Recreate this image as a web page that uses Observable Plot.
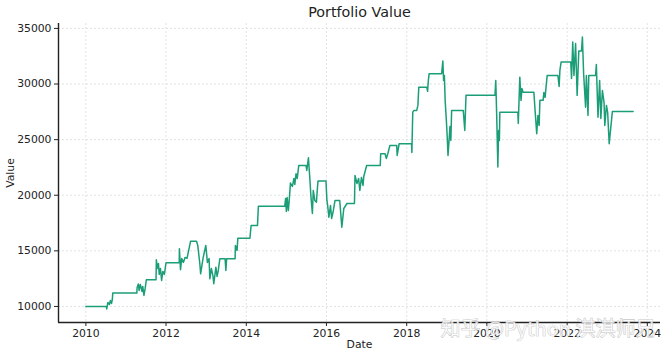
<!DOCTYPE html>
<html><head><meta charset="utf-8">
<script src="https://cdn.jsdelivr.net/npm/d3@7"></script>
<script src="https://cdn.jsdelivr.net/npm/@observablehq/plot@0.6"></script>
<style>
html,body{margin:0;padding:0;background:#fff;}
#chart svg{display:block;}
</style>
</head><body><div id="chart"></div>
<script>
const dates = [
"2010-01-01","2010-07-06","2010-07-10","2010-07-21","2010-08-04","2010-08-12","2010-08-23","2010-08-30","2010-09-03",
"2011-04-10","2011-04-13","2011-04-24","2011-05-01","2011-05-12","2011-05-27","2011-06-03","2011-06-14","2011-06-25","2011-07-06",
"2011-10-02","2011-10-05","2011-10-13","2011-10-24","2011-10-31","2011-11-11","2011-11-22","2011-12-03","2011-12-17",
"2012-01-01","2012-04-30","2012-05-02","2012-05-12","2012-05-23","2012-06-07","2012-06-22","2012-07-10","2012-08-12",
"2012-10-05","2012-10-16","2012-11-04","2012-11-11","2012-12-03","2012-12-28",
"2013-01-12","2013-01-27","2013-02-03","2013-02-17","2013-03-04","2013-03-11","2013-03-30","2013-04-10","2013-04-21","2013-05-05",
"2013-06-22","2013-06-29","2013-07-06","2013-09-21","2013-09-24","2013-10-09","2013-10-16",
"2014-02-03","2014-02-14","2014-04-13","2014-04-21","2014-12-17","2014-12-25",
"2015-01-01","2015-01-08","2015-01-19","2015-01-27","2015-02-07","2015-02-25","2015-03-11","2015-03-19","2015-03-30","2015-04-10","2015-04-24",
"2015-06-29","2015-07-06","2015-07-21","2015-08-04","2015-08-12","2015-08-26","2015-09-03","2015-09-17","2015-10-02","2015-10-09","2015-10-16","2015-12-28",
"2016-01-05","2016-01-12","2016-01-23","2016-02-07","2016-02-17","2016-03-04","2016-03-19","2016-05-01","2016-05-20","2016-06-07","2016-07-06",
"2016-09-12","2016-09-17","2016-10-05","2016-10-20","2016-10-31","2016-11-15","2016-11-29","2016-12-06",
"2017-01-01","2017-05-05","2017-05-09","2017-06-18","2017-06-29","2017-07-13","2017-08-01","2017-10-02","2017-10-06","2017-10-24",
"2018-02-14","2018-02-17","2018-02-25","2018-03-08","2018-04-02","2018-04-13","2018-04-21","2018-07-03","2018-07-10","2018-07-17","2018-07-24",
"2018-11-15","2018-11-26","2018-12-03","2018-12-10","2018-12-17","2018-12-28",
"2019-01-05","2019-01-12","2019-01-23","2019-01-30","2019-02-07","2019-02-14","2019-05-31","2019-06-14","2019-06-25",
"2020-03-15","2020-03-22","2020-03-30","2020-04-10","2020-04-17","2020-04-24","2020-04-28",
"2020-10-09","2020-10-13","2020-10-20","2020-10-27","2020-11-07","2020-11-15","2020-11-26",
"2021-03-04","2021-03-15","2021-03-30","2021-04-10","2021-04-21","2021-04-28","2021-05-27","2021-06-03","2021-06-14","2021-07-03",
"2021-10-09","2021-10-20","2021-10-27","2021-11-07",
"2022-02-03","2022-02-10","2022-02-21","2022-03-04","2022-03-19","2022-04-02","2022-04-17","2022-05-12","2022-05-20","2022-05-31",
"2022-06-18","2022-06-25","2022-07-10","2022-07-17","2022-09-17","2022-09-24","2022-10-09","2022-10-24","2022-11-04","2022-11-18",
"2022-12-03","2022-12-10","2022-12-25",
"2023-01-05","2023-01-12","2023-01-19","2023-02-17","2023-08-25"
];
const values = [
10000,10000,9780,10360,10180,10540,10270,10630,11200,
11200,11710,12020,11440,11980,11350,11800,10990,11620,12400,
12400,14200,13420,13870,12880,13420,12340,13150,12880,
13930,13930,15190,13300,14320,13960,14410,14320,15870,
15870,15490,13840,12940,14320,15490,
13960,14320,12490,13420,12700,12040,13530,12700,13240,14290,
14290,13240,14290,14290,15490,15040,16140,
16140,17280,17280,19000,19000,19710,
18540,19800,18630,19530,21090,20790,21510,20970,21930,21510,22680,
22680,22230,23370,21330,19980,18360,20430,19530,19380,20430,21270,21270,
19530,19080,18030,19080,17910,18630,19530,19530,17130,18810,19260,
19260,21780,21060,21510,20430,21600,20880,21690,
22680,22680,23730,23730,23310,23730,24480,24480,23580,24630,
24630,23850,27470,27630,27630,28080,29720,29720,29340,30320,30920,
30920,32060,30320,30770,28530,26730,
25230,23580,25110,26190,24930,27630,27630,25830,28980,
28980,30320,27360,22530,25830,24930,27470,
27470,26460,28530,30620,28530,29600,29270,
29270,27630,25530,27180,26280,28530,28530,29240,28800,30770,
30770,29780,31220,31970,
31970,30500,33770,30770,33650,28980,32960,32960,34220,30950,
27920,30770,27180,30770,30770,31760,27020,30320,26910,29420,
28350,26280,28080,
27450,26010,24630,27540,27540
];
const xTickYears = [2010, 2012, 2014, 2016, 2018, 2020, 2022, 2024];
const yTicks = [10000, 15000, 20000, 25000, 30000, 35000];
const titleText = "Portfolio Value";
const xLabel = "Date";
const yLabel = "Value";
const watermark = "知乎 @Python 淇淇师兄";

const data = dates.map((d, i) => ({date: new Date(d), value: values[i]}));
const xTicks = xTickYears.map(y => new Date(Date.UTC(y, 0, 1)));

// matplotlib-like 5% margins
const xe = d3.extent(data, d => +d.date);
const xp = (xe[1] - xe[0]) * 0.05;
const xDomain = [new Date(xe[0] - xp), new Date(xe[1] + xp)];
const ye = d3.extent(values);
const yp = (ye[1] - ye[0]) * 0.05;
const yDomain = [ye[0] - yp, ye[1] + yp];

const font = "DejaVu Sans";
const ink = "#222222";
const gridStyle = {stroke: "#dadada", strokeOpacity: 1, strokeWidth: 0.8, strokeDasharray: "2,2"};

const chart = Plot.plot({
  width: 670,
  height: 356,
  marginLeft: 58,
  marginRight: 10,
  marginTop: 23,
  marginBottom: 34,
  style: {fontFamily: font, fontSize: "10.8px", color: ink, background: "#fff"},
  x: {type: "utc", domain: xDomain},
  y: {domain: yDomain},
  marks: [
    Plot.gridX(xTicks, gridStyle),
    Plot.gridY(yTicks, gridStyle),
    Plot.line(data, {x: "date", y: "value", stroke: "#1b9e77", strokeWidth: 1.5}),
    Plot.axisX(xTicks, {tickFormat: "%Y", tickSize: 4, tickPadding: 3, label: null, stroke: ink, fill: ink, fontSize: 10.8}),
    Plot.axisY(yTicks, {tickFormat: d => String(d), tickSize: 4, tickPadding: 3, label: null, stroke: ink, fill: ink, fontSize: 10.8}),
    Plot.ruleX([xDomain[0]], {stroke: ink, strokeWidth: 1.4}),
    Plot.ruleY([yDomain[0]], {stroke: ink, strokeWidth: 1.4}),
    Plot.text([titleText], {frameAnchor: "top", dy: -11, lineAnchor: "middle", fontSize: 14.3, fill: ink, fontFamily: font}),
    Plot.text([xLabel], {frameAnchor: "bottom", dy: 22, lineAnchor: "middle", fontSize: 10.8, fill: ink, fontFamily: font}),
    Plot.text([yLabel], {frameAnchor: "left", dx: -48, rotate: -90, lineAnchor: "middle", textAnchor: "middle", fontSize: 10.8, fill: ink, fontFamily: font}),
    Plot.text([watermark], {frameAnchor: "bottom-right", dx: -5, dy: 7, lineAnchor: "middle", textAnchor: "end", fontSize: 20, fill: "#ffffff", fillOpacity: 0.75, stroke: "#b8b8b8", strokeWidth: 0.7, fontFamily: "Noto Sans CJK SC"})
  ]
});
document.getElementById("chart").appendChild(chart);
</script>
</body></html>
